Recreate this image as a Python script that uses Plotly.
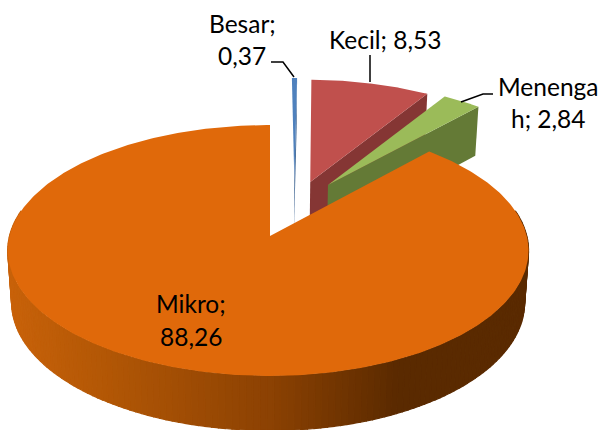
import numpy as np
import plotly.graph_objects as go

categories = ["Besar", "Kecil", "Menengah", "Mikro"]
values = [0.37, 8.53, 2.84, 88.26]
label_lines = [["Besar;", "0,37"], ["Kecil; 8,53"], ["Menenga", "h; 2,84"], ["Mikro;", "88,26"]]

top_colors = ["#4F81BD", "#C0504D", "#9BBB59", "#E0690A"]
wall_colors = ["#3A6190", "#853634", "#647A36", "#5A2A00"]

# camera: projects a unit pie onto the 601x430 picture
APEX = (270.0, 236.0)
A_LEFT, A_RIGHT, B, C = 260.5, 256.8, 123.8, 0.1155
CX, CY = 268.0, 250.0
# exploded offsets of each slice (world units) and radius
offsets = [(0.10, 0.477), (0.165, 0.459), (0.237, 0.433), (0.0, 0.0)]
radii = [1.02, 1.02, 1.02, 1.0]


def project(X, Y):
    X, Y = np.asarray(X, float), np.asarray(Y, float)
    d = 1 + C * Y
    return APEX[0] + np.where(X < 0, A_LEFT, A_RIGHT) * X / d, APEX[1] - B * Y / d


def drop(x, y):
    x, y = np.asarray(x, float), np.asarray(y, float)
    return CX + (x - CX) * 0.985, y + 52 + (y - CY) * 0.02


def slice_xy(start, end, off, r, n=160):
    t = np.linspace(start, end, n)
    X = np.concatenate([[off[0]], off[0] + r * np.sin(t), [off[0]]])
    Y = np.concatenate([[off[1]], off[1] + r * np.cos(t), [off[1]]])
    return project(X, Y)


def poly(fig, x, y, color, lw=0.0):
    fig.add_trace(go.Scatter(x=list(x), y=list(y), mode="lines", fill="toself", fillcolor=color,
                             line=dict(color=color, width=lw), hoverinfo="skip", showlegend=False))


def mix(stops, v):
    xs = [s[0] for s in stops]
    return "rgb(%d,%d,%d)" % tuple(np.interp(v, xs, [s[1][i] for s in stops]) for i in range(3))


fig = go.Figure()
angles = np.cumsum([0] + values) / sum(values) * 2 * np.pi

# exploded small slices: end wall, then top
for i in range(3):
    a0, a1 = angles[i], angles[i + 1]
    off, r = offsets[i], radii[i]
    px, py = project([off[0], off[0] + r * np.sin(a1)], [off[1], off[1] + r * np.cos(a1)])
    qx, qy = drop(px, py)
    poly(fig, [px[0], px[1], qx[1], qx[0], px[0]], [py[0], py[1], qy[1], qy[0], py[0]], wall_colors[i])
    x, y = slice_xy(a0, a1, off, r)
    poly(fig, x, y, top_colors[i])

# Mikro: shaded outer wall
stops = [(10, (200, 98, 10)), (100, (180, 88, 6)), (270, (140, 66, 3)), (400, (90, 42, 0)), (530, (90, 42, 0))]
ts = np.linspace(np.radians(78), np.radians(282), 150)
for t0, t1 in zip(ts[:-1], ts[1:]):
    tx, ty = project(np.sin([t0, t1]), np.cos([t0, t1]))
    bx, by = drop(tx, ty)
    poly(fig, [tx[0], tx[1], bx[1], bx[0], tx[0]], [ty[0], ty[1], by[1], by[0], ty[0]],
         mix(stops, float(tx.mean())), lw=1.2)

x, y = slice_xy(angles[3], angles[4], offsets[3], radii[3], n=400)
poly(fig, x, y, top_colors[3])

# leader lines
leaders = [([271, 283, 294], [62, 62, 77]), ([370, 370], [55, 82]), ([461, 483, 493], [102, 94, 94])]
for lx, ly in leaders:
    fig.add_trace(go.Scatter(x=lx, y=ly, mode="lines", line=dict(color="#000000", width=1.5),
                             hoverinfo="skip", showlegend=False))

# data labels
label_pos = [(242, [23, 55]), (385, [39]), (548, [86, 118]), (191, [303, 336])]
for lines, (lx, lys) in zip(label_lines, label_pos):
    for line, ly in zip(lines, lys):
        fig.add_annotation(x=lx, y=ly, text=line, showarrow=False, xanchor="center", yanchor="middle",
                           font=dict(family="Lato", size=24.5, color="#000000"))

fig.update_layout(
    width=601, height=430, margin=dict(l=0, r=0, t=0, b=0),
    paper_bgcolor="#FFFFFF", plot_bgcolor="#FFFFFF", showlegend=False,
    xaxis=dict(range=[0, 601], visible=False, fixedrange=True),
    yaxis=dict(range=[430, 0], visible=False, fixedrange=True),
)
fig.write_html("out.html", config={"displayModeBar": False},
               post_script="document.body.style.margin='0';")
